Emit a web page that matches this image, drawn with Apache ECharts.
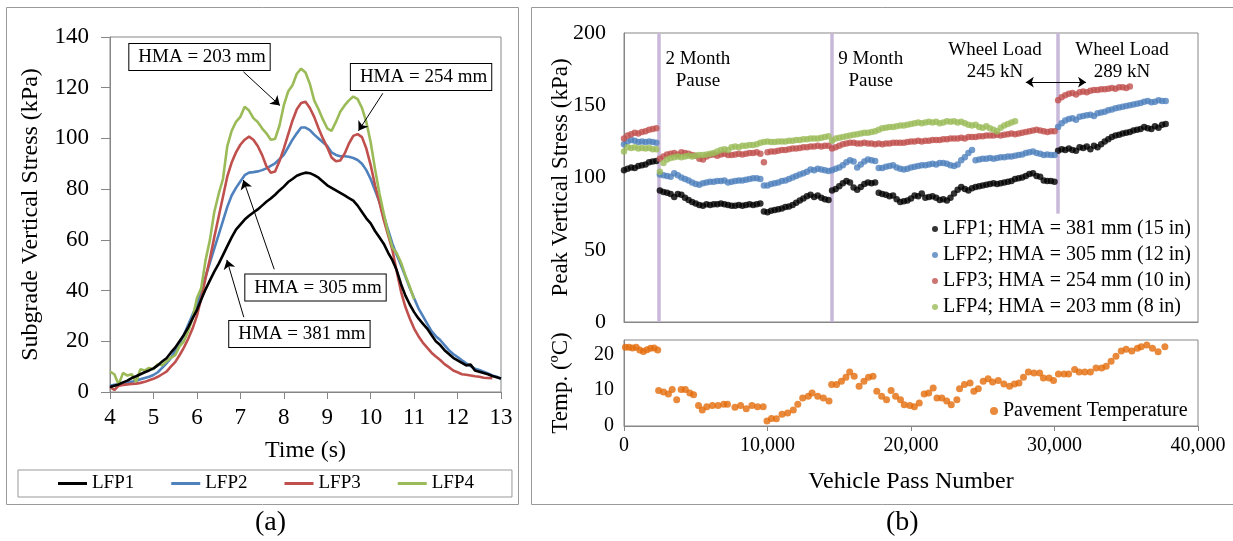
<!DOCTYPE html>
<html>
<head>
<meta charset="utf-8">
<script src="https://cdn.jsdelivr.net/npm/echarts@6/dist/echarts.min.js"></script>
<style>
html, body { margin: 0; padding: 0; background: #fff; }
#chart { width: 1233px; height: 541px; }
</style>
</head>
<body>
<div id="chart"></div>
<script>
// ---- (a) subgrade stress under one pass ----
var timeS = [
  4.0, 4.1, 4.2, 4.3, 4.4, 4.5, 4.6, 4.7, 4.8, 4.9,
  5.0, 5.1, 5.2, 5.3, 5.4, 5.5, 5.6, 5.7, 5.8, 5.9,
  6.0, 6.1, 6.2, 6.3, 6.4, 6.5, 6.6, 6.7, 6.8, 6.9,
  7.0, 7.1, 7.2, 7.3, 7.4, 7.5, 7.6, 7.7, 7.8, 7.9,
  8.0, 8.1, 8.2, 8.3, 8.4, 8.5, 8.6, 8.7, 8.8, 8.9,
  9.0, 9.1, 9.2, 9.3, 9.4, 9.5, 9.6, 9.7, 9.8, 9.9,
  10.0, 10.1, 10.2, 10.3, 10.4, 10.5, 10.6, 10.7, 10.8, 10.9,
  11.0, 11.1, 11.2, 11.3, 11.4, 11.5, 11.6, 11.7, 11.8, 11.9,
  12.0, 12.1, 12.2, 12.3, 12.4, 12.5, 12.6, 12.7, 12.8, 12.9,
  13.0
];
var lfp1Time = [
  2, 2.5, 3, 3.8, 4.5, 5.5, 6.2, 7, 7.8, 8.5,
  9.3, 10.5, 12, 13.3, 15.5, 17.5, 20, 22.5, 25.5, 29,
  32.3, 36.5, 40.5, 44, 47.5, 50.5, 54, 57.5, 61, 64,
  66, 68, 69.5, 70.8, 72, 73.5, 75, 76.3, 77.8, 79.5,
  81, 82.8, 84, 85.3, 86, 86.5, 86.3, 85.5, 84.5, 83,
  81.5, 80.5, 79.5, 78.5, 77.5, 76.5, 75.5, 73.5, 71, 68.5,
  66.5, 63.5, 61, 58.5, 55, 52, 48, 42.5, 38, 34.5,
  31.5, 29, 27, 25, 22.5, 20, 18.5, 16.5, 15, 13.5,
  12.5, 11.5, 10.5, 10.8, 8.5, 8, 7.5, 7, 6.3, 5.8,
  5.3
];
var lfp2Time = [
  2.5, 2.8, 3, 3.3, 3.6, 4, 4.4, 5, 5.5, 6,
  6.7, 7.8, 9.5, 11.3, 13.3, 16.2, 19, 22.5, 26.5, 30.5,
  34.5, 39.5, 45.5, 51, 56.5, 62, 67.5, 73, 77.5, 80.5,
  83, 85.5, 86.5, 86.7, 87, 87.5, 88.2, 89.2, 90.2, 91.8,
  93.5, 96.5, 99.5, 102, 104.3, 104.3, 103.3, 101.5, 100, 98.5,
  97, 94.5, 93.5, 93, 93, 92.8, 92.3, 91.5, 90, 87.5,
  84, 79.5, 75, 69.5, 64, 58.5, 54, 50, 45.5, 41,
  37, 33, 30, 27, 24, 22, 20.5, 18.5, 16.5, 15,
  13.8, 12.5, 11.3, 10.2, 9.2, 8.7, 8, 7.3, 6.5, 6,
  5.2
];
var lfp3Time = [
  2, 0.8, 2.5, 2.8, 3, 3.2, 3.3, 3.6, 4, 4.6,
  5.2, 6, 7, 8, 10, 11.8, 14.5, 17.5, 21, 25,
  30, 37, 45, 52.5, 61, 69, 77, 85, 90.5, 94.5,
  97.5, 99.5, 100.7, 99.5, 97, 93.5, 89, 86.5, 87, 91,
  96, 101.5, 107, 111.5, 114, 114.5, 112, 108.5, 104, 100,
  96.5, 92.5, 91, 91.3, 94, 98, 101, 101.7, 100.5, 96,
  89.5, 81.5, 75, 68, 62, 56, 47.5, 39.5, 33.5, 29,
  25, 22, 19.5, 17.5, 15.5, 14, 12.6, 11, 9.8, 8.5,
  7.8, 7, 6.8, 6.5, 6.2, 6, 5.6, 5.5, 5.4, null,
  null
];
var lfp4Time = [
  8, 7, 3, 7.5, 6.5, 7, 4, 9, 8.5, 9.5,
  9, 11, 10.5, 12, 13.5, 14.5, 18, 20, 24, 29,
  37, 41, 52, 60, 71, 78, 84, 97, 103, 106.5,
  108.5, 112.5, 111, 108, 106.5, 104, 102, 99.5, 99.8, 105,
  113, 118.5, 121, 125.5, 127.5, 126, 121.5, 115, 111.5, 107.5,
  104, 103, 106.5, 110.5, 113, 115, 116.5, 115.5, 112, 106.5,
  98.5, 88, 78.5, 70.5, 63, 57, 54.7, 51, 46, 41.5,
  36.5, null, null, null, null, null, null, null, null, null,
  null, null, null, null, null, null, null, null, null, null,
  null
];
var lineNames = ['LFP1', 'LFP2', 'LFP3', 'LFP4'];

// annotation boxes and arrows of (a), in data units
var hmaText = ['HMA = 203 mm', 'HMA = 254 mm', 'HMA = 305 mm', 'HMA = 381 mm'];
var hmaBoxAt = [[6.06, 132.1], [11.16, 124.2], [8.73, 41.2], [8.36, 22.9]];
var hmaArrowFrom = [[7.07, 126.3], [10.28, 117.8], [7.78, 48.4], [7.08, 29.5]];
var hmaArrowTo = [[7.91, 113.0], [9.72, 103.0], [7.07, 83.6], [6.69, 52.1]];

// ---- (b) peak stress vs vehicle passes ----
var passNumber = [
  0, 250, 500, 750, 1000, 1250, 1500, 1750, 2000, 2250,
  2500, 2750, 3000, 3250, 3500, 3750, 4000, 4250, 4500, 4750,
  5000, 5250, 5500, 5750, 6000, 6250, 6500, 6750, 7000, 7250,
  7500, 7750, 8000, 8250, 8500, 8750, 9000, 9250, 9500, 9750,
  10000, 10250, 10500, 10750, 11000, 11250, 11500, 11750, 12000, 12250,
  12500, 12750, 13000, 13250, 13500, 13750, 14000, 14250,
  14500, 14750, 15000, 15250, 15500, 15750, 16000, 16250, 16500, 16750,
  17000, 17250, 17500, 17750, 18000, 18250, 18500, 18750, 19000, 19250,
  19500, 19750, 20000, 20250, 20500, 20750, 21000, 21250, 21500, 21750,
  22000, 22250, 22500, 22750, 23000, 23250, 23500, 23750, 24000, 24250,
  24500, 24750, 25000, 25250, 25500, 25750, 26000, 26250, 26500, 26750,
  27000, 27250, 27500, 27750, 28000, 28250, 28500, 28750, 29000, 29250,
  29500, 29750, 30000,
  30250, 30500, 30750, 31000, 31250, 31500, 31750, 32000, 32250, 32500,
  32750, 33000, 33250, 33500, 33750, 34000, 34250, 34500, 34750, 35000,
  35250, 35500, 35750, 36000, 36250, 36500, 36750, 37000, 37250, 37500,
  37750
];
var lfp1Peak = [
  105, 106, 107, 106.5, 108, 108.5, 109, 110.5, 111, 111.5,
  91, 90, 89.5, 88.5, 86.5, 88.5, 88, 86, 84.5, 83,
  82, 81, 80.5, 81.5, 81, 81.5, 81.5, 82, 81.5, 81,
  80.5, 80.5, 81, 80.5, 81, 81.5, 81, 81.5, 82, 76.5,
  76, 77, 77.5, 78, 78.5, 79.5, 80, 81, 82.5, 84,
  85.5, 87, 88, 86.5, 87.5, 86, 85, 84.5,
  91, 92, 94, 96, 97.5, 96.5, 93, 91.5, 93.5, 95.5,
  96.5, 96, 96.5, 89.5, 88.5, 88, 87, 87.5, 85, 83,
  83.5, 84, 85.5, 87.5, 87, 89, 86, 86.5, 87, 86,
  84.5, 85, 84, 86, 89, 91.5, 93.5, 92, 91, 92.5,
  93.5, 94, 94.5, 95, 95.5, 96, 95.5, 96, 96.5, 97,
  97.5, 99, 99.5, 100, 101, 102.5, 103, 101, 100.5, 98,
  97.5, 97.5, 97,
  118.5, 119.5, 119, 120, 119, 118.5, 121, 120.5, 121.5, 119.5,
  122, 121, 123, 125, 126.5, 128, 129, 129.5, 130.5, 131,
  131.5, 132.5, 133, 133.5, 135, 134, 133.5, 135.5, 134.5, 136.5,
  137
];
var lfp2Peak = [
  123, 125, 126, 125.5, 124.5, 125, 124.5, 125, 124.5, 124,
  102, 101.5, 101, 100.5, 103, 101.5, 100, 99, 98, 96.5,
  95.5, 95, 96, 96.5, 97, 97, 97.5, 97.5, 98, 96.5,
  97, 97.5, 98, 98, 98.5, 99, 99.5, 99.5, 99, 94.5,
  94.5, 95.5, 96, 96.5, 97.5, 98, 99, 100, 101, 102,
  103, 104, 105.5, 105, 106, 105.5, 105, 104.5,
  105, 106, 107, 108.5, 110.5, 112, 111, 107, 109, 111,
  112.5, 112, 111.5, 106.5, 106.5, 107.5, 108, 108.5, 107, 106,
  105.5, 106, 107, 107.5, 108, 108.5, 108.5, 109, 109.5, 109,
  110, 110, 109.5, 108.5, 108, 109, 112, 114, 117, 119,
  112, 112.5, 113, 113, 113.5, 113, 113.5, 114, 114, 114.5,
  114.5, 115, 115.5, 116, 117, 117.5, 118, 117, 116.5, 115.5,
  116, 115.5, 115.5,
  135, 137.5, 139.5, 140.5, 141, 140, 142, 142.5, 143, 143.5,
  142.5, 144.5, 145, 145.5, 146.5, 147, 148, 148.5, 149, 149.5,
  150, 150.5, 151, 151.5, 152.5, 153, 152, 152.5, 153.5, 153,
  153
];
var lfp3Peak = [
  127, 129, 130, 131, 130.5, 131.5, 132, 133, 133.5, 134,
  113, 114.5, 116, 116.5, 117, 116, 117.5, 117, 116.5, 115.5,
  115, 113, 112.5, 114.5, 115.5, 116, 115, 116, 116.5, 115.5,
  115.5, 116, 116.5, 116, 116.5, 117, 117, 117.5, 116.5, 110.5,
  117.5, 118, 118, 118.5, 119, 119, 119.5, 120, 120, 120.5,
  121, 121, 121.5, 121.5, 122, 121.5, 122, 122,
  120, 121, 122, 123, 123.5, 124, 124, 123.5, 123.5, 124,
  123.5, 123.5, 123, 123.5, 123, 123.5, 123.5, 124, 124, 124,
  124, 124.5, 125, 125, 125.5, 125, 125.5, 125.5, 126, 126,
  126, 126.5, 126.5, 127, 127, 127, 127.5, 127, 128, 128,
  128, 128.5, 128.5, 129, 129, 129, 129.5, 129, 129.5, 130,
  130.5, 130, 130.5, 131, 131.5, 132, 132.5, 133, 132.5, 132,
  131.5, 132, 132,
  153.5, 155.5, 157, 158, 158.5, 157.5, 159, 159.5, 159, 160,
  160.5, 160.5, 161, 161, 161.5, 162, 161.5, 162.5, 162.5, 162,
  163, null, null, null, null, null, null, null, null, null,
  null
];
var lfp4Peak = [
  118, 121, 120.5, 121, 120, 120.5, 120, 120.5, 119.5, 119.5,
  104, 110, 112.5, 113.5, 114, 114.5, 114, 114.5, 115, 114.5,
  115, 115.5, 115.5, 116, 116.5, 117, 118, 119, 119.5, 119,
  121, 121.5, 121, 122, 122, 122.5, 122.5, 123, 124, 124.5,
  125, 124.5, 124.5, 125, 125, 125, 125.5, 125.5, 126, 126,
  126.5, 126.5, 127, 127, 127, 127.5, 128, 128.5,
  125.5, 127, 127.5, 128, 128.5, 129, 129.5, 130, 130.5, 131,
  131, 131.5, 132, 133, 134, 134.5, 135, 135, 135.5, 136,
  136, 136.5, 137, 137.5, 138, 137.5, 138, 138.5, 138, 138.5,
  137.5, 138, 139, 138.5, 139, 138, 138.5, 137.5, 136.5, 136,
  136.5, 135, 134.5, 135.5, 134, 133, 132, 134.5, 136, 137,
  138, 139, null, null, null, null, null, null, null, null,
  null, null, null,
  null, null, null, null, null, null, null, null, null, null,
  null, null, null, null, null, null, null, null, null, null,
  null, null, null, null, null, null, null, null, null, null,
  null
];
var peakNames = [
  'LFP1; HMA = 381 mm (15 in)',
  'LFP2; HMA = 305 mm (12 in)',
  'LFP3; HMA = 254 mm (10 in)',
  'LFP4; HMA = 203 mm (8 in)'
];

var tempPass = [
  100, 350, 600, 850, 1100, 1350, 1600, 1850, 2100, 2350,
  2414, 2754, 3095, 3357, 3672, 3986, 4275, 4589, 4851, 5192,
  5454, 5768, 6162, 6555, 6948, 7210, 7734, 8127, 8520, 8914,
  9307, 9700, 9962, 10277, 10618, 11010, 11404, 11797, 12111, 12452,
  12845, 13108, 13501, 13894, 14287, 14470, 14811, 15152, 15466, 15728,
  16043, 16383, 16724, 17039, 17353, 17616, 17956, 18297, 18611, 18926,
  19267, 19529, 19922, 20236, 20577, 20918, 21232, 21546, 21809, 22149,
  22490, 22805, 23198, 23382, 23723, 24115, 24378, 24692, 25033, 25374,
  25688, 26081, 26474, 26871, 27208, 27523, 27837, 28178, 28571, 28964,
  29226, 29620, 29934, 30275, 30668, 30983, 31402, 31717, 32110, 32503,
  32896, 33289, 33604, 33944, 34285, 34652, 34993, 35386, 35779, 36041,
  36434, 36827, 37220, 37692
];
var tempValue = [
  22.0, 22.0, 21.8, 22.0, 21.2, 20.8, 21.3, 21.7, 21.8, 21.2,
  9.9, 9.5, 8.9, 10.2, 7.3, 10.2, 10.2, 9.2, 8.7, 5.7,
  4.5, 5.4, 5.7, 5.7, 6.1, 6.1, 5.2, 5.7, 4.8, 5.7,
  5.4, 5.4, 1.4, 2.1, 2.0, 3.3, 3.6, 4.5, 6.1, 7.8,
  8.3, 9.2, 8.3, 7.8, 7.0, 11.6, 11.6, 12.5, 13.6, 15.1,
  13.9, 11.1, 12.5, 13.6, 13.9, 9.7, 8.3, 7.3, 9.9, 8.3,
  7.3, 5.9, 5.7, 5.4, 6.4, 8.9, 9.2, 10.6, 7.8, 7.8,
  7.0, 5.9, 7.3, 10.4, 11.6, 12.0, 9.7, 10.4, 12.5, 13.2,
  12.3, 12.7, 11.7, 11.1, 11.7, 12.0, 13.6, 15.1, 14.8, 14.8,
  13.4, 13.4, 12.7, 14.5, 14.5, 14.5, 15.8, 15.1, 15.1, 15.1,
  16.2, 16.2, 16.7, 18.1, 19.5, 20.9, 21.4, 20.9, 21.7, 22.1,
  22.6, 21.7, 20.7, 22.1
];

// pauses / load change markers of (b), in data units
var pauseLineAt = [2450, 14450, 30200];
var pauseLineFrom = [0, 0, 75];
var noteText = ['2 Month\nPause', '9 Month\nPause', 'Wheel Load\n245 kN', 'Wheel Load\n289 kN'];
var noteAt = [[5150, 174.5], [17190, 174.5], [25850, 180.8], [34700, 180.8]];
var loadArrow = [[28000, 166], [32200, 166]];

var colors = ['#000000', '#4f81bd', '#c0504d', '#9bbb59'];
var tempColor = '#e46c0a';
var FONT = '"Liberation Serif", "Times New Roman", serif';
var GRAY = '#868686';

function zip(xs, ys) {
  var out = [];
  for (var i = 0; i < xs.length; i++) {
    if (ys[i] !== null && ys[i] !== undefined) out.push([xs[i], ys[i]]);
  }
  return out;
}
function commas(v) {
  return String(v).replace(/\B(?=(\d{3})+(?!\d))/g, ',');
}

var chart = echarts.init(document.getElementById('chart'));

var timeSeries = [lfp1Time, lfp2Time, lfp3Time, lfp4Time];
var peakSeries = [lfp1Peak, lfp2Peak, lfp3Peak, lfp4Peak];
var series = [];

timeSeries.forEach(function (vals, i) {
  var s = {
    name: lineNames[i],
    type: 'line',
    xAxisIndex: 0,
    yAxisIndex: 0,
    showSymbol: false,
    symbol: 'none',
    color: colors[i],
    lineStyle: { width: 2.6, color: colors[i] },
    data: zip(timeS, vals),
    z: 2 + (i === 0 ? 4 : 0)
  };
  if (i === 0) {
    s.markLine = {
      silent: true,
      symbol: ['none', 'arrow'],
      symbolSize: 9,
      label: { show: false },
      lineStyle: { color: '#000', width: 1, type: 'solid' },
      data: hmaArrowFrom.map(function (p, k) {
        return [{ coord: p }, { coord: hmaArrowTo[k] }];
      })
    };
    s.markPoint = {
      silent: true,
      symbol: 'circle',
      symbolSize: 0,
      label: {
        show: true,
        position: 'inside',
        color: '#000',
        fontFamily: FONT,
        fontSize: 19,
        backgroundColor: '#fff',
        borderColor: '#000',
        borderWidth: 1,
        padding: [4, 4, 3, 9]
      },
      data: hmaBoxAt.map(function (p, k) {
        return { coord: p, value: hmaText[k], label: { formatter: hmaText[k] } };
      })
    };
  }
  series.push(s);
});

peakSeries.forEach(function (vals, i) {
  var s = {
    name: peakNames[i],
    type: 'scatter',
    xAxisIndex: 1,
    yAxisIndex: 1,
    symbolSize: 6.5,
    color: colors[i],
    itemStyle: { color: colors[i] },
    data: zip(passNumber, vals),
    z: 3
  };
  if (i === 0) {
    s.markLine = {
      silent: true,
      symbol: 'none',
      label: { show: false },
      lineStyle: { color: '#c8b9da', width: 3.5, type: 'solid' },
      z: 1,
      data: pauseLineAt.map(function (n, k) {
        return [{ coord: [n, pauseLineFrom[k]] }, { coord: [n, 200] }];
      })
    };
  }
  if (i === 1) {
    s.markPoint = {
      silent: true,
      symbol: 'circle',
      symbolSize: 0,
      z: 4,
      label: {
        show: true,
        position: 'inside',
        color: '#000',
        fontFamily: FONT,
        fontSize: 19,
        lineHeight: 22,
        align: 'center'
      },
      data: noteAt.map(function (p, k) {
        var lab = { formatter: noteText[k] };
        if (k === 2) {
          lab.backgroundColor = '#fff';
          lab.padding = [7, 8, 0, 8];
        }
        return { coord: p, value: noteText[k], label: lab };
      })
    };
  }
  if (i === 2) {
    s.markLine = {
      silent: true,
      z: 9,
      symbol: ['arrow', 'arrow'],
      symbolSize: 8,
      label: { show: false },
      lineStyle: { color: '#000', width: 1, type: 'solid' },
      data: [[{ coord: loadArrow[0] }, { coord: loadArrow[1] }]]
    };
  }
  series.push(s);
});

series.push({
  name: 'Pavement Temperature',
  type: 'scatter',
  xAxisIndex: 2,
  yAxisIndex: 2,
  symbolSize: 7,
  color: tempColor,
  itemStyle: { color: tempColor },
  data: zip(tempPass, tempValue)
});

var option = {
  animation: false,
  backgroundColor: '#fff',
  textStyle: { fontFamily: FONT, color: '#000' },
  grid: [
    { left: 110, top: 37, width: 391, height: 355, show: true, borderColor: GRAY, borderWidth: 1, backgroundColor: 'transparent', containLabel: false, outerBoundsMode: 'none' },
    { left: 624, top: 33, width: 574, height: 289, show: true, borderColor: GRAY, borderWidth: 1, backgroundColor: 'transparent', containLabel: false, outerBoundsMode: 'none' },
    { left: 624, top: 340, width: 574, height: 86, show: true, borderColor: GRAY, borderWidth: 1, backgroundColor: 'transparent', containLabel: false, outerBoundsMode: 'none' }
  ],
  xAxis: [
    {
      gridIndex: 0, type: 'value', min: 4, max: 13, interval: 1,
      name: 'Time (s)', nameLocation: 'middle', nameGap: 47, nameMoveOverlap: false,
      nameTextStyle: { color: '#000', fontFamily: FONT, fontSize: 24 },
      axisLine: { show: true, lineStyle: { color: GRAY } },
      axisTick: { show: true, inside: false, length: 7, lineStyle: { color: GRAY } },
      axisLabel: { color: '#000', fontFamily: FONT, fontSize: 23, margin: 14 },
      splitLine: { show: false }
    },
    {
      gridIndex: 1, type: 'value', min: 0, max: 40000, interval: 10000,
      axisLine: { show: true, lineStyle: { color: GRAY } },
      axisTick: { show: false },
      axisLabel: { show: false },
      splitLine: { show: false }
    },
    {
      gridIndex: 2, type: 'value', min: 0, max: 40000, interval: 10000,
      name: 'Vehicle Pass Number', nameLocation: 'middle', nameGap: 44, nameMoveOverlap: false,
      nameTextStyle: { color: '#000', fontFamily: FONT, fontSize: 24 },
      axisLine: { show: true, lineStyle: { color: GRAY } },
      axisTick: { show: true, inside: false, length: 5, lineStyle: { color: GRAY } },
      axisLabel: { color: '#000', fontFamily: FONT, fontSize: 20, margin: 10, formatter: commas },
      splitLine: { show: false }
    }
  ],
  yAxis: [
    {
      gridIndex: 0, type: 'value', min: 0, max: 140, interval: 20,
      name: 'Subgrade Vertical Stress (kPa)', nameLocation: 'middle', nameGap: 67, nameRotate: 90, nameMoveOverlap: false,
      nameTextStyle: { color: '#000', fontFamily: FONT, fontSize: 24 },
      axisLine: { show: true, lineStyle: { color: GRAY } },
      axisTick: { show: true, inside: false, length: 9, lineStyle: { color: GRAY } },
      axisLabel: { color: '#000', fontFamily: FONT, fontSize: 23, margin: 21 },
      splitLine: { show: false }
    },
    {
      gridIndex: 1, type: 'value', min: 0, max: 200, interval: 50,
      name: 'Peak Vertical Stress (kPa)', nameLocation: 'middle', nameGap: 52, nameRotate: 90, nameMoveOverlap: false,
      nameTextStyle: { color: '#000', fontFamily: FONT, fontSize: 23 },
      axisLine: { show: true, lineStyle: { color: GRAY } },
      axisTick: { show: false },
      axisLabel: { color: '#000', fontFamily: FONT, fontSize: 22, margin: 18 },
      splitLine: { show: false }
    },
    {
      gridIndex: 2, type: 'value', min: 0, max: 24, interval: 10,
      name: 'Temp. (ºC)', nameLocation: 'middle', nameGap: 52, nameRotate: 90, nameMoveOverlap: false,
      nameTextStyle: { color: '#000', fontFamily: FONT, fontSize: 23 },
      axisLine: { show: true, lineStyle: { color: GRAY } },
      axisTick: { show: false },
      axisLabel: { color: '#000', fontFamily: FONT, fontSize: 20, margin: 10, showMaxLabel: false },
      splitLine: { show: false }
    }
  ],
  legend: [
    {
      data: lineNames, left: 18, top: 470, orient: 'horizontal',
      icon: 'rect', itemWidth: 29, itemHeight: 3, itemGap: 37,
      padding: [4, 38, 4, 40], borderColor: '#999', borderWidth: 1,
      selectedMode: false,
      textStyle: { color: '#000', fontFamily: FONT, fontSize: 19 }
    },
    {
      data: peakNames, left: 932, top: 219, orient: 'vertical',
      icon: 'circle', itemWidth: 6, itemHeight: 6, itemGap: 6,
      padding: 0, selectedMode: false,
      textStyle: { color: '#000', fontFamily: FONT, fontSize: 20 }
    },
    {
      data: ['Pavement Temperature'], left: 990, top: 401, orient: 'horizontal',
      icon: 'circle', itemWidth: 8, itemHeight: 8,
      padding: 0, selectedMode: false,
      textStyle: { color: '#000', fontFamily: FONT, fontSize: 20 }
    }
  ],
  graphic: [
    { type: 'rect', shape: { x: 6.5, y: 7.5, width: 512, height: 497 }, style: { fill: 'none', stroke: '#9a9a9a', lineWidth: 1 }, silent: true },
    { type: 'rect', shape: { x: 531.5, y: 7.5, width: 720, height: 497 }, style: { fill: 'none', stroke: '#9a9a9a', lineWidth: 1 }, silent: true },
    { type: 'text', left: 255, top: 509, style: { text: '(a)', fill: '#000', font: '28px ' + FONT }, silent: true },
    { type: 'text', left: 886, top: 509, style: { text: '(b)', fill: '#000', font: '28px ' + FONT }, silent: true }
  ],
  series: series
};

chart.setOption(option);
</script>
</body>
</html>
